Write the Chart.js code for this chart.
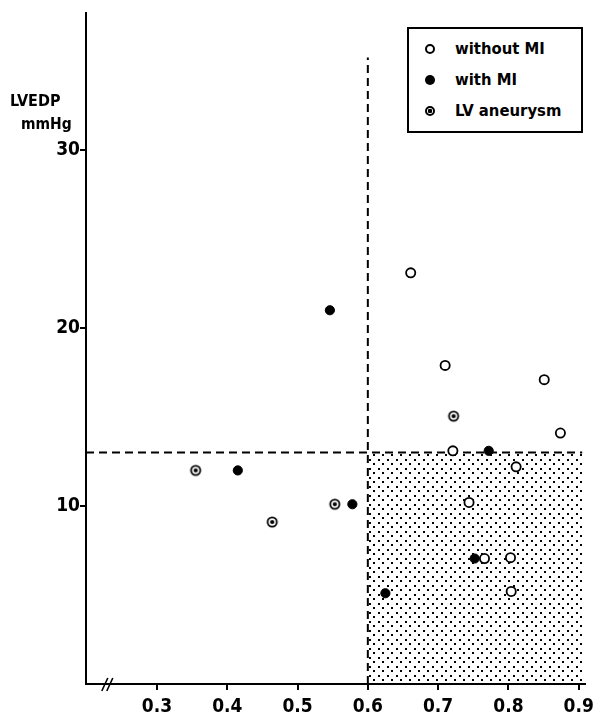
<!DOCTYPE html>
<html>
<head>
<meta charset="utf-8">
<script src="https://cdn.jsdelivr.net/npm/chart.js@4/dist/chart.umd.min.js"></script>
<style>
  body { margin: 0; background: #fff; }
  #wrap { position: relative; width: 601px; height: 720px; }
  .txt { position: absolute; font: bold 16px 'DejaVu Sans Condensed', 'Liberation Sans Narrow', sans-serif; color: #000; white-space: nowrap; }
  #legend { position: absolute; left: 407px; top: 27px; width: 172px; height: 102px; border: 2px solid #000; background: #fff; }
  .row { position: absolute; left: 0; height: 20px; line-height: 20px; }
  .row .txt { left: 46px; top: 0; line-height: 20px; font-size: 16.5px; }
  .mk { position: absolute; left: 16px; top: 5px; width: 10px; height: 10px; border-radius: 50%; box-sizing: border-box; }
  .open { border: 2px solid #000; background: #fff; }
  .fill { background: #000; }
  .ring { border: 2px solid #000; background: radial-gradient(circle, #000 0 2px, #fff 2.5px); }
</style>
</head>
<body>
<div id="wrap">
  <canvas id="chart" width="601" height="720"></canvas>
  <div class="txt" style="left:10px; top:91px;">LVEDP</div>
  <div class="txt" style="left:21px; top:115px; font-size:15.5px;">mmHg</div>
  <div id="legend">
    <div class="row" style="top:10px;"><span class="mk open"></span><span class="txt">without MI</span></div>
    <div class="row" style="top:41px;"><span class="mk fill"></span><span class="txt">with MI</span></div>
    <div class="row" style="top:72px;"><span class="mk ring"></span><span class="txt">LV aneurysm</span></div>
  </div>
</div>
<script>
/* LVEDP vs ejection fraction scatter */
var xTicks = [0.3, 0.4, 0.5, 0.6, 0.7, 0.8, 0.9];
var yTicks = [10, 20, 30];

var withoutMI = [
  { x: 0.661, y: 23.1 }, { x: 0.710, y: 17.9 }, { x: 0.851, y: 17.1 }, { x: 0.874, y: 14.1 },
  { x: 0.721, y: 13.1 }, { x: 0.811, y: 12.2 }, { x: 0.744, y: 10.2 }, { x: 0.766, y: 7.05 },
  { x: 0.803, y: 7.1 }, { x: 0.804, y: 5.2 }
];
var withMI = [
  { x: 0.415, y: 12.0 }, { x: 0.546, y: 21.0 }, { x: 0.578, y: 10.1 },
  { x: 0.625, y: 5.1 }, { x: 0.752, y: 7.05 }, { x: 0.772, y: 13.1 }
];
var lvAneurysm = [
  { x: 0.355, y: 12.0 }, { x: 0.464, y: 9.1 }, { x: 0.553, y: 10.1 }, { x: 0.722, y: 15.05 }
];

var cutX = 0.6, cutY = 13;            // normal limits (EF, LVEDP)
var xMin = 0.199, xMax = 0.909, yMin = 0, yMax = 37.7;
var shadeRight = 0.905, vLineTop = 35.2, breakAt = 0.23;

var font = { family: "'DejaVu Sans Condensed', 'Liberation Sans Narrow', sans-serif", size: 19, weight: 'bold' };

function ringDot() {
  var c = document.createElement('canvas');
  c.width = 14; c.height = 14;
  var g = c.getContext('2d');
  g.fillStyle = '#fff'; g.beginPath(); g.arc(7, 7, 4.6, 0, Math.PI * 2); g.fill();
  g.lineWidth = 1.8; g.strokeStyle = '#000'; g.stroke();
  g.fillStyle = '#000'; g.beginPath(); g.arc(7, 7, 2.1, 0, Math.PI * 2); g.fill();
  return c;
}

function dotPattern(ctx) {
  var c = document.createElement('canvas');
  c.width = 9; c.height = 9;
  var g = c.getContext('2d');
  g.fillStyle = '#000';
  g.fillRect(0, 0, 2, 2);
  g.fillRect(4, 4, 2, 2);
  return ctx.createPattern(c, 'repeat');
}

var overlay = {
  id: 'overlay',
  beforeDatasetsDraw: function(chart) {
    var ctx = chart.ctx, sx = chart.scales.x, sy = chart.scales.y;
    var l = sx.getPixelForValue(cutX), r = sx.getPixelForValue(shadeRight);
    var t = sy.getPixelForValue(cutY), b = sy.getPixelForValue(0);
    ctx.save();
    ctx.fillStyle = dotPattern(ctx);
    ctx.fillRect(l, t, r - l, b - t);
    ctx.strokeStyle = '#000';
    ctx.lineWidth = 2;
    ctx.setLineDash([8, 5]);
    ctx.beginPath();
    ctx.moveTo(sx.getPixelForValue(xMin), t); ctx.lineTo(r, t);
    ctx.moveTo(l, b); ctx.lineTo(l, sy.getPixelForValue(vLineTop));
    ctx.stroke();
    // axis break
    ctx.setLineDash([]);
    ctx.lineWidth = 1.6;
    var bx = sx.getPixelForValue(breakAt);
    ctx.beginPath();
    ctx.moveTo(bx - 6, b + 7); ctx.lineTo(bx, b - 6);
    ctx.moveTo(bx - 1, b + 7); ctx.lineTo(bx + 5, b - 6);
    ctx.stroke();
    ctx.restore();
  }
};

new Chart(document.getElementById('chart').getContext('2d'), {
  type: 'scatter',
  data: {
    datasets: [
      { label: 'without MI', data: withoutMI, pointStyle: 'circle', radius: 4.6, hoverRadius: 4.6, borderWidth: 1.8, borderColor: '#000', backgroundColor: '#fff' },
      { label: 'with MI', data: withMI, pointStyle: 'circle', radius: 4.6, hoverRadius: 4.6, borderWidth: 1, borderColor: '#000', backgroundColor: '#000' },
      { label: 'LV aneurysm', data: lvAneurysm, pointStyle: ringDot(), radius: 5, hoverRadius: 5 }
    ]
  },
  options: {
    responsive: false,
    animation: false,
    events: [],
    elements: { point: { pointStyle: 'circle' } },
    layout: { padding: { top: 13, right: 16, left: 0, bottom: 0 } },
    plugins: { legend: { display: false }, tooltip: { enabled: false } },
    scales: {
      x: {
        type: 'linear', min: xMin, max: xMax,
        afterBuildTicks: function(s) { s.ticks = xTicks.map(function(v) { return { value: v }; }); },
        afterFit: function(s) { s.height = 36; },
        border: { color: '#000', width: 2 },
        grid: { drawOnChartArea: false, color: '#000', lineWidth: 2, tickLength: 6 },
        ticks: { color: '#000', font: font, padding: 6, maxRotation: 0, callback: function(v) { return v.toFixed(1); } }
      },
      y: {
        type: 'linear', min: yMin, max: yMax,
        afterBuildTicks: function(s) { s.ticks = yTicks.map(function(v) { return { value: v }; }); },
        afterFit: function(s) { s.width = 86; },
        border: { color: '#000', width: 2 },
        grid: { drawOnChartArea: false, color: '#000', lineWidth: 2, tickLength: 6 },
        ticks: { color: '#000', font: font, padding: 0, callback: function(v) { return String(v); } }
      }
    }
  },
  plugins: [overlay]
});
</script>
</body>
</html>
